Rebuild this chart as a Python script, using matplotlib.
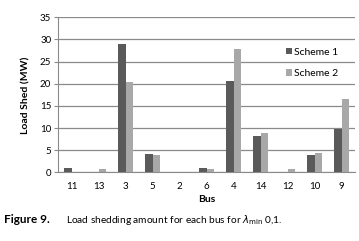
import matplotlib
matplotlib.use("Agg")
import matplotlib.pyplot as plt
import numpy as np

buses = ["11", "13", "3", "5", "2", "6", "4", "14", "12", "10", "9"]
scheme1 = [0.9, 0.1, 28.9, 4.1, 0.1, 1.0, 20.7, 8.1, 0.0, 4.0, 9.8]
scheme2 = [0.0, 0.75, 20.5, 3.9, 0.1, 0.7, 27.9, 8.8, 0.7, 4.35, 16.6]
yticks = [0, 5, 10, 15, 20, 25, 30, 35]

plt.rcParams['font.family'] = ['Lato', 'DejaVu Sans']

fig = plt.figure(figsize=(3.59, 2.41), dpi=100)
ax = fig.add_axes([0.162, 0.285, 0.827, 0.643])

x = np.arange(len(buses))
w = 0.28
ax.bar(x - w/2, scheme1, w, color="#5a5a5a", label="Scheme 1", zorder=3)
ax.bar(x + w/2, scheme2, w, color="#a8a8a8", label="Scheme 2", zorder=3)

ax.set_xlim(-0.5, len(buses) - 0.5)
ax.set_ylim(0, 35)
ax.set_yticks(yticks)
ax.set_xticks(x)
ax.set_xticklabels(buses)
ax.yaxis.grid(True, color="#8a8a8a", linewidth=0.9, zorder=0)
for s in ["top", "right"]:
    ax.spines[s].set_visible(False)
ax.spines["left"].set_color("#8a8a8a")
ax.spines["bottom"].set_color("#8a8a8a")
ax.tick_params(axis="y", length=3, color="#8a8a8a", labelsize=7, pad=2)
ax.tick_params(axis="x", length=0, labelsize=7, pad=7)
ax.set_xlabel("Bus", fontsize=7.5, fontweight="bold", labelpad=3)
ax.set_ylabel("Load Shed (MW)", fontsize=7.5, fontweight="bold", labelpad=7)

ax.legend(loc="upper left", bbox_to_anchor=(0.755, 0.83), frameon=False,
          fontsize=7.5, handlelength=0.5, handleheight=0.6, handletextpad=0.2,
          labelspacing=1.2, borderaxespad=0)

fig.text(0.012, 0.075, "Figure 9.", fontsize=8.5, fontweight="bold")
fig.text(0.185, 0.075, r"Load shedding amount for each bus for $\lambda_{\rm min}$ 0,1.",
         fontsize=7.3)

fig.savefig("out.png", dpi=100)
